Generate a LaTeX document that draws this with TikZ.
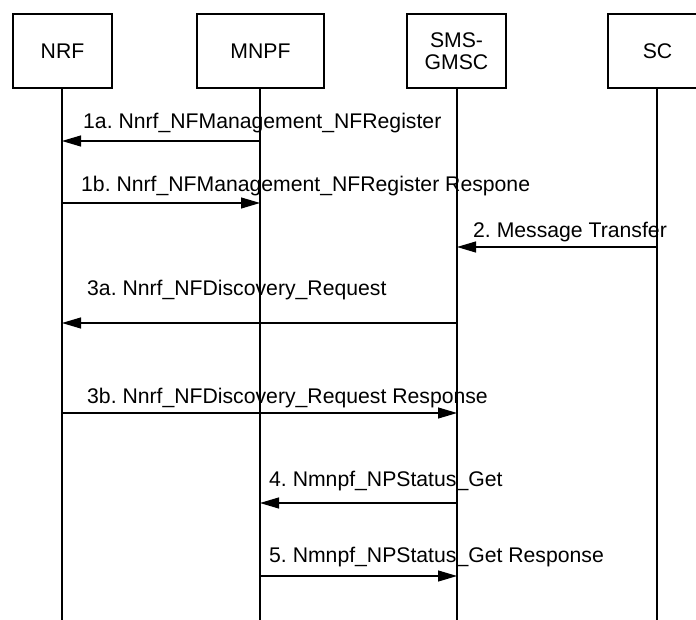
\documentclass[tikz,border=0pt]{standalone}
\usepackage{fontspec}
\setmainfont{Liberation Sans}
\usetikzlibrary{arrows.meta}
\frenchspacing
\begin{document}
\begin{tikzpicture}[x=1pt,y=-1pt,
  entity/.style={draw,line width=1.2pt,minimum height=74pt,align=center,inner sep=0pt,font=\fontsize{21.2}{22}\selectfont},
  life/.style={line width=1.2pt},
  msg/.style={line width=1.2pt,-{Triangle[length=19pt,width=11pt]}},
  lbl/.style={anchor=west,inner sep=0pt,font=\fontsize{21.2}{24}\selectfont}]
\useasboundingbox (0,0) rectangle (696,620);
\fill[white] (0,0) rectangle (696,620);
% entities
\node[entity,minimum width=99pt]  (nrf)  at (62.5,51)  {NRF};
\node[entity,minimum width=127pt] (mnpf) at (260.5,51) {MNPF};
\node[entity,minimum width=99pt]  (sms)  at (456.5,51) {SMS-\\GMSC};
\node[entity,minimum width=99pt]  (sc)   at (657.5,51) {SC};
% lifeline ends
\coordinate (nrfE)  at (62,625);
\coordinate (mnpfE) at (260,625);
\coordinate (smsE)  at (457,625);
\coordinate (scE)   at (657,625);
\draw[life] (nrf.south -| nrfE) -- (nrfE);
\draw[life] (mnpf.south -| mnpfE) -- (mnpfE);
\draw[life] (sms.south -| smsE) -- (smsE);
\draw[life] (sc.south -| scE) -- (scE);
% message end points
\coordinate (a1s) at (260,141); \coordinate (a1e) at (62,141);
\coordinate (b1s) at (62,203);  \coordinate (b1e) at (260,203);
\coordinate (m2s) at (657,247); \coordinate (m2e) at (457,247);
\coordinate (a3s) at (457,323); \coordinate (a3e) at (62,323);
\coordinate (b3s) at (62,413);  \coordinate (b3e) at (457,413);
\coordinate (m4s) at (457,503); \coordinate (m4e) at (260,503);
\coordinate (m5s) at (260,576); \coordinate (m5e) at (457,576);
\draw[msg] (a1s) -- (a1e);
\draw[msg] (b1s) -- (b1e);
\draw[msg] (m2s) -- (m2e);
\draw[msg] (a3s) -- (a3e);
\draw[msg] (b3s) -- (b3e);
\draw[msg] (m4s) -- (m4e);
\draw[msg] (m5s) -- (m5e);
% labels
\node[lbl] (l1a) at (83,123) {1a. Nnrf\_NFManagement\_NFRegister};
\node[lbl] (l1b) at (81,186) {1b. Nnrf\_NFManagement\_NFRegister Respone};
\node[lbl] (l2)  at (473,232) {2. Message Transfer};
\node[lbl] (l3a) at (87,290) {3a. Nnrf\_NFDiscovery\_Request};
\node[lbl] (l3b) at (87,398) {3b. Nnrf\_NFDiscovery\_Request Response};
\node[lbl] (l4)  at (269,481) {4. Nmnpf\_NPStatus\_Get};
\node[lbl] (l5)  at (269,557) {5. Nmnpf\_NPStatus\_Get Response};
\end{tikzpicture}
\end{document}
